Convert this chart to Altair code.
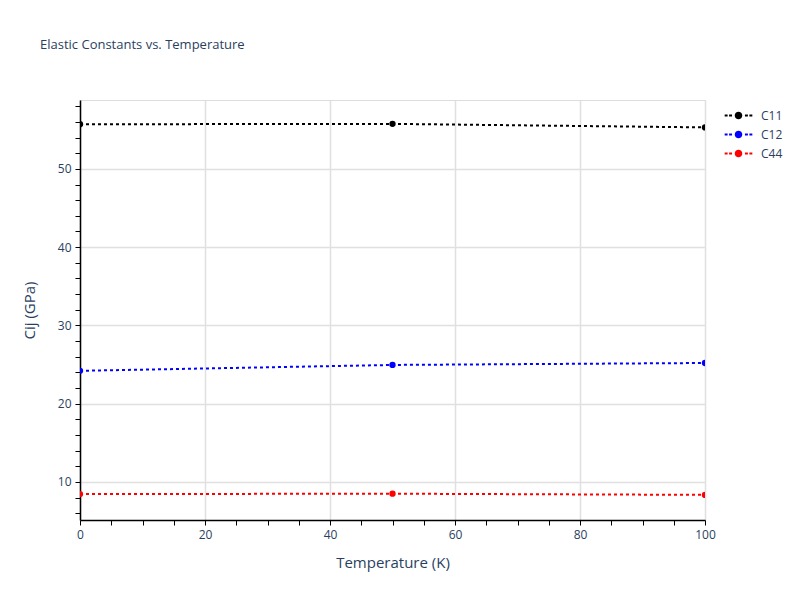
import altair as alt
import pandas as pd

temperatures = [0, 50, 100]
c11 = [55.7, 55.75, 55.3]
c12 = [24.2, 24.95, 25.2]
c44 = [8.45, 8.5, 8.35]
series_names = ["C11", "C12", "C44"]
series_colors = ["#000000", "#0000ff", "#ff0000"]

rows = []
for name, vals in zip(series_names, [c11, c12, c44]):
    for t, v in zip(temperatures, vals):
        rows.append({"T": t, "Cij": v, "series": name})
df = pd.DataFrame(rows)

font = "Open Sans"
txt = "#2a3f5f"

legend_symbol = ("M-1.5,0h0.32M-1.02,0h0.32M0.7,0h0.32M1.18,0h0.32"
                 "M-0.3,0a0.3,0.3 0 1,0 0.6,0a0.3,0.3 0 1,0 -0.6,0")

color = alt.Color(
    "series:N",
    scale=alt.Scale(domain=series_names, range=series_colors),
    legend=alt.Legend(
        title=None, orient="none", legendX=648, legendY=5,
        symbolType=legend_symbol, symbolSize=340, symbolStrokeWidth=2,
        labelFont=font, labelFontSize=12, labelColor=txt, rowPadding=1,
        symbolOffset=0, labelOffset=12,
    ),
)

x = alt.X(
    "T:Q",
    scale=alt.Scale(domain=[0, 100], nice=False),
    axis=alt.Axis(
        title="Temperature (K)", values=list(range(0, 101, 5)),
        labelExpr="datum.value % 20 === 0 ? datum.label : ''",
        labelFlush=False,
        gridOpacity={"condition": {"test": "datum.value % 20 === 0", "value": 1}, "value": 0},
        gridColor="#e0e0e0", gridWidth=1.5,
        domainColor="#000000", domainWidth=1.5, tickColor="#000000", tickSize=5,
        labelFont=font, labelFontSize=12, labelColor=txt, labelPadding=4,
        titleFont=font, titleFontSize=15, titleColor=txt, titleFontWeight="normal",
        titlePadding=15,
    ),
)
y = alt.Y(
    "Cij:Q",
    scale=alt.Scale(domain=[5.14, 58.8], nice=False, zero=False),
    axis=alt.Axis(
        title="Cij (GPa)", values=list(range(6, 59, 2)),
        labelExpr="datum.value % 10 === 0 ? datum.label : ''",
        labelFlush=False,
        gridOpacity={"condition": {"test": "datum.value % 10 === 0", "value": 1}, "value": 0},
        gridColor="#e0e0e0", gridWidth=1.5,
        domainColor="#000000", domainWidth=1.5, tickColor="#000000", tickSize=5,
        labelFont=font, labelFontSize=12, labelColor=txt, labelPadding=4,
        titleFont=font, titleFontSize=15, titleColor=txt, titleFontWeight="normal",
        titlePadding=20,
    ),
)

base = alt.Chart(df)
lines = base.mark_line(strokeDash=[3, 3], strokeWidth=2, clip=True).encode(
    x=x, y=y, color=color, detail="series:N"
)
points = base.mark_point(filled=True, size=40, opacity=1, clip=True).encode(
    x=x, y=y, color=color
)

chart = (
    alt.layer(lines, points)
    .properties(
        width=625, height=420,
        autosize=alt.AutoSizeParams(type="none"),
        padding={"left": 72, "top": 92, "right": 87, "bottom": 72},
        title=alt.TitleParams(
            "Elastic Constants vs. Temperature", anchor="start", frame="group",
            dx=-40, offset=48,
            font=font, fontSize=13, fontWeight="normal", color=txt,
        ),
    )
    .configure_view(stroke=None)
    .configure(background="white")
)

chart.save("out.html", embed_options={"renderer": "svg", "actions": False})
